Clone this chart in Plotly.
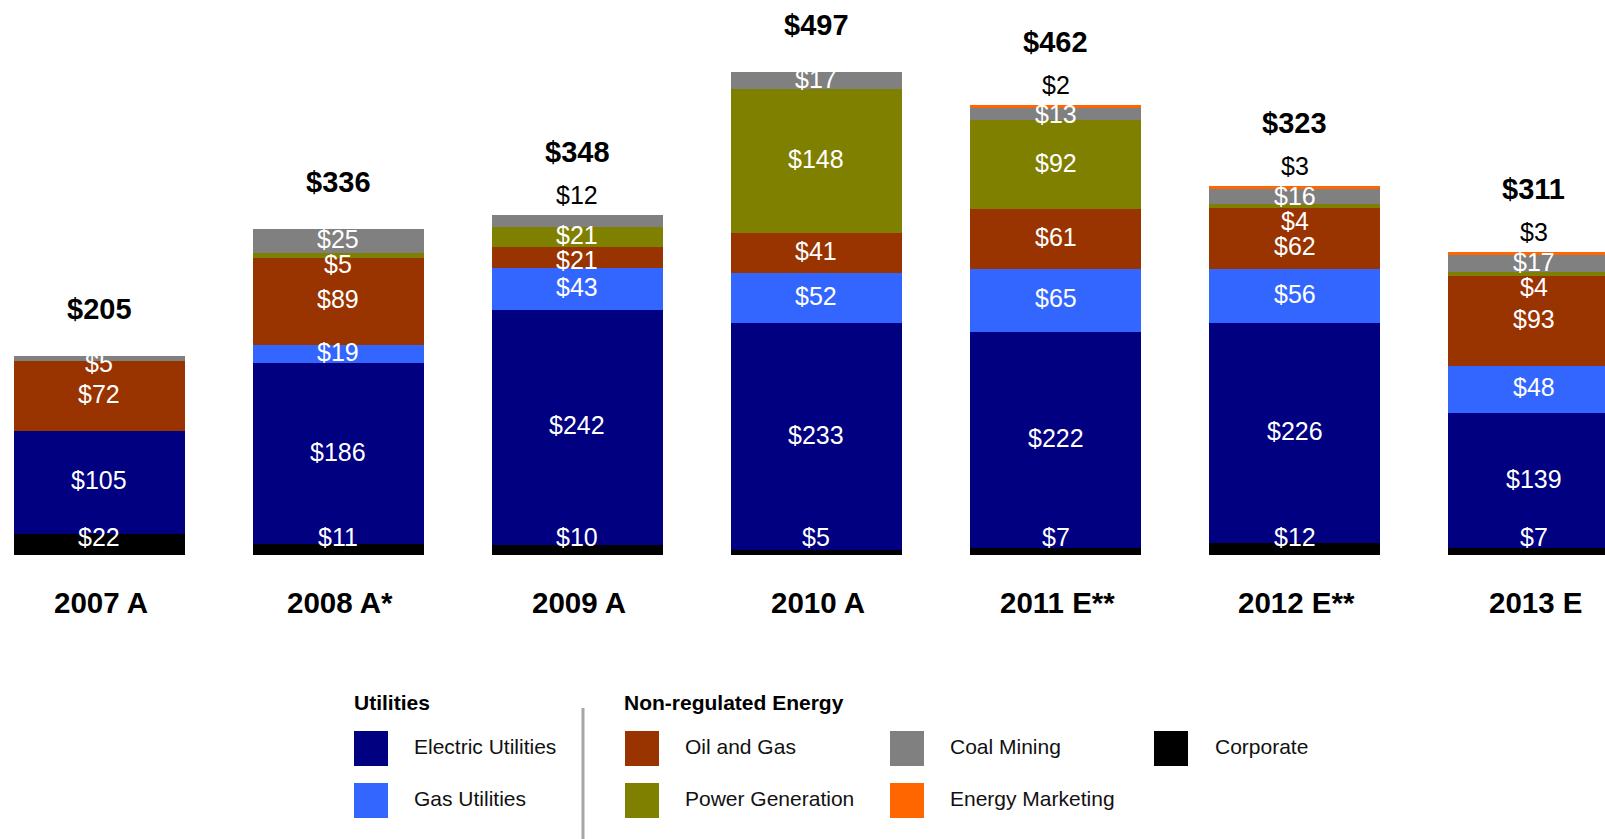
import plotly.graph_objects as go

# ---------------- data ----------------
categories = ["2007 A", "2008 A*", "2009 A", "2010 A", "2011 E**", "2012 E**", "2013 E"]
corporate = [22, 11, 10, 5, 7, 12, 7]
electric_utilities = [105, 186, 242, 233, 222, 226, 139]
gas_utilities = [0, 19, 43, 52, 65, 56, 48]
oil_and_gas = [72, 89, 21, 41, 61, 62, 93]
power_generation = [0, 5, 21, 148, 92, 4, 4]
coal_mining = [5, 25, 12, 17, 13, 16, 17]
energy_marketing = [0, 0, 0, 0, 2, 3, 3]
totals = [205, 336, 348, 497, 462, 323, 311]

series_names = ["Corporate", "Electric Utilities", "Gas Utilities", "Oil and Gas",
                "Power Generation", "Coal Mining", "Energy Marketing"]
series_values = [corporate, electric_utilities, gas_utilities, oil_and_gas,
                 power_generation, coal_mining, energy_marketing]
series_colors = ["#000000", "#000080", "#3366FF", "#993300", "#808000", "#808080", "#FF6600"]

legend_groups = ["Utilities", "Non-regulated Energy"]

# ---------------- layout constants ----------------
W, H = 1605, 839
PLOT_BOTTOM = 555          # px from top where bars start
Y_MAX = 570
X_RANGE = [-0.414, 6.297]
BAR_WIDTH = 0.715
FONT = "Arial, Liberation Sans, sans-serif"
LABEL_GAP = 26             # min vertical distance between inside labels (data units)
TOP_PAD = 9                # inside label keeps this far below top of its bar segment stack
OUTSIDE = {("2009 A", "Coal Mining")}

x_pos = list(range(len(categories)))

fig = go.Figure()
for name, vals, col in zip(series_names, series_values, series_colors):
    fig.add_trace(go.Bar(
        x=x_pos, y=vals, name=name, width=BAR_WIDTH,
        marker=dict(color=col, line=dict(width=0)),
        showlegend=False, hovertemplate=name + ": $%{y}<extra></extra>"))

annotations = []
for i, cat in enumerate(categories):
    base = 0
    segs = []
    for name, vals in zip(series_names, series_values):
        v = vals[i]
        if v > 0:
            segs.append((name, v, base + v / 2, base + v))
        base += v
    top = base
    outside = [s for s in segs if s[0] == "Energy Marketing" or (cat, s[0]) in OUTSIDE]
    inside = [s for s in segs if s not in outside]
    prev = None
    for name, v, c, seg_top in reversed(inside):
        if prev is None:
            y = min(c, seg_top - TOP_PAD)
        else:
            y = min(c, prev - LABEL_GAP)
        if name == "Corporate":
            y = max(y, 16)
        prev = y
        annotations.append(dict(x=i, y=y, xref="x", yref="y", text=f"${v}", showarrow=False,
                                yanchor="middle", yshift=2,
                                font=dict(family=FONT, size=25, color="#FFFFFF")))
    for name, v, c, seg_top in outside:
        annotations.append(dict(x=i, y=top, xref="x", yref="y", text=f"${v}", showarrow=False,
                                yanchor="middle", yshift=20,
                                font=dict(family=FONT, size=25, color="#000000")))
    annotations.append(dict(x=i, y=top, xref="x", yref="y", text=f"${totals[i]}", showarrow=False,
                            yanchor="middle", yshift=63 if outside else 47,
                            font=dict(family=FONT, size=29, color="#000000", weight="bold")))
    annotations.append(dict(x=i, y=0, xref="x", yref="y", text=cat, showarrow=False,
                            yanchor="middle", yshift=-47, xshift=2,
                            font=dict(family=FONT, size=29.5, color="#000000", weight="bold")))

# ---------------- custom legend ----------------
def px(xp):
    return xp / W

def py(yp):
    return (PLOT_BOTTOM - yp) / PLOT_BOTTOM

shapes = []
# group headings
annotations.append(dict(x=px(352), y=py(702), xref="paper", yref="paper", text=legend_groups[0],
                        showarrow=False, xanchor="left", yanchor="middle",
                        font=dict(family=FONT, size=21, color="#000000", weight="bold")))
annotations.append(dict(x=px(622), y=py(702), xref="paper", yref="paper", text=legend_groups[1],
                        showarrow=False, xanchor="left", yanchor="middle",
                        font=dict(family=FONT, size=21, color="#000000", weight="bold")))
# separator
shapes.append(dict(type="line", xref="paper", yref="paper", x0=px(583), x1=px(583),
                   y0=py(708), y1=py(845), line=dict(color="#A6A6A6", width=3)))

# legend entries: (series index, box left, text left, row)
legend_layout = [
    (1, 354, 412, 0), (2, 354, 412, 1),
    (3, 625, 683, 0), (4, 625, 683, 1),
    (5, 890, 948, 0), (6, 890, 948, 1),
    (0, 1154, 1213, 0),
]
row_box_top = [731, 783]
BOX_W, BOX_H = 34, 35
for idx, bx, tx, row in legend_layout:
    y0 = row_box_top[row]
    shapes.append(dict(type="rect", xref="paper", yref="paper", x0=px(bx), x1=px(bx + BOX_W),
                       y0=py(y0 + BOX_H), y1=py(y0), fillcolor=series_colors[idx],
                       line=dict(width=0)))
    annotations.append(dict(x=px(tx), y=py(y0 + BOX_H / 2 - 2), xref="paper", yref="paper",
                            text=series_names[idx], showarrow=False, xanchor="left",
                            yanchor="middle",
                            font=dict(family=FONT, size=21, color="#111111")))

fig.update_layout(
    width=W, height=H,
    margin=dict(l=0, r=0, t=0, b=H - PLOT_BOTTOM, pad=0),
    barmode="stack",
    bargap=0,
    paper_bgcolor="white", plot_bgcolor="white",
    xaxis=dict(range=X_RANGE, visible=False, fixedrange=True),
    yaxis=dict(range=[0, Y_MAX], visible=False, fixedrange=True),
    annotations=annotations,
    shapes=shapes,
    showlegend=False,
)

fig.write_html("out.html", config={"displayModeBar": False},
               post_script="document.body.style.margin='0';document.body.style.overflow='hidden';")
